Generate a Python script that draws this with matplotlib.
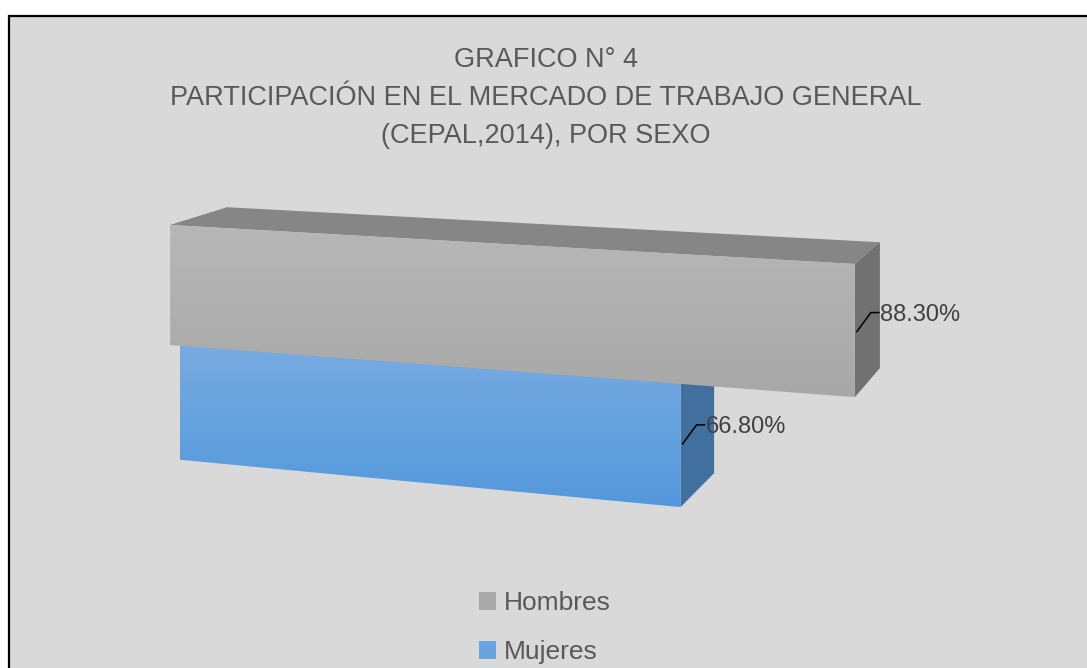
import numpy as np
import matplotlib
matplotlib.use("Agg")
import matplotlib.pyplot as plt
from matplotlib.patches import Polygon, Rectangle, Patch
from matplotlib.colors import LinearSegmentedColormap

# datos del grafico
series = ["Hombres", "Mujeres"]
valores = [88.30, 66.80]
titulo = ["GRAFICO N° 4",
          "PARTICIPACIÓN EN EL MERCADO DE TRABAJO GENERAL",
          "(CEPAL,2014), POR SEXO"]

# estilo de cada serie: frente (arriba, abajo), tapa, lado, leyenda
col_frente = [("#b7b7b7", "#a8a8a8"), ("#79ace1", "#5398dc")]
col_tapa = ["#868686", "#5f8fc4"]
col_lado = ["#717171", "#416f9e"]
col_leyenda = ["#a9a9a9", "#6aa3de"]
fila = [0.0, -1.0]        # posicion vertical de cada barra
prof = [0.0, 0.167]       # desplazamiento en profundidad

W, H = 1087, 668
FONDO = "#d9d9d9"
TEXTO = "#595959"

# camara en perspectiva (dos puntos de fuga)
PX, PY, F = 520.0, -130.0, 2278.0
TH = np.radians(19.1)
X0, Y0, Z0 = -1.536, -2.085, 10.0
SX, SY, SD = 0.03428, 0.5268, 0.557


def proyectar(x, y, d):
  xc = X0 + x * SX * np.cos(TH) + d * SD * np.sin(TH)
  yc = Y0 + y * SY
  zc = Z0 - x * SX * np.sin(TH) + d * SD * np.cos(TH)
  return PX + F * xc / zc, PY - F * yc / zc


def cara(ax, pts, c1, c2=None, z=2):
  pts = np.array(pts)
  poly = Polygon(pts, closed=True, facecolor=c1 if c2 is None else "none",
                 edgecolor="none", zorder=z)
  ax.add_patch(poly)
  if c2 is not None:
    cmap = LinearSegmentedColormap.from_list("g", [c1, c2])
    grad = np.linspace(0, 1, 256)[:, None]
    im = ax.imshow(grad, cmap=cmap, aspect="auto", interpolation="bicubic",
                   extent=(pts[:, 0].min(), pts[:, 0].max(), pts[:, 1].max(), pts[:, 1].min()),
                   zorder=z)
    im.set_clip_path(poly)


def barra(ax, v, y0, d0, cf, ct, cl, z):
  y1 = y0 + 1
  d1 = d0 + 1
  frente = [proyectar(0, y1, d0), proyectar(v, y1, d0), proyectar(v, y0, d0), proyectar(0, y0, d0)]
  tapa = [proyectar(0, y1, d0), proyectar(0, y1, d1), proyectar(v, y1, d1), proyectar(v, y1, d0)]
  lado = [proyectar(v, y1, d0), proyectar(v, y1, d1), proyectar(v, y0, d1), proyectar(v, y0, d0)]
  cara(ax, tapa, ct, z=z)
  cara(ax, lado, cl, z=z)
  cara(ax, frente, cf[0], cf[1], z=z)
  # etiqueta con linea guia desde el centro de la arista derecha
  ux, uy = proyectar(v, y1 - 0.5, d0)
  ax.plot([ux + 2, ux + 16, ux + 24], [uy + 1, uy - 18, uy - 18], color="black", lw=1.1, zorder=z + 5)
  ax.text(ux + 25, uy - 16, f"{v:.2f}%", fontsize=17, color="#404040",
          family=["Liberation Sans", "DejaVu Sans"], ha="left", va="center", zorder=z + 5)


fig = plt.figure(figsize=(W / 100, H / 100), dpi=100)
ax = fig.add_axes([0, 0, 1, 1])
ax.set_xlim(0, W)
ax.set_ylim(H, 0)
ax.axis("off")

ax.add_patch(Rectangle((8.5, 15.5), W, H, facecolor=FONDO, edgecolor="black", lw=1.6, zorder=0))

# se dibuja primero la barra de atras
for i in [1, 0]:
  barra(ax, valores[i], fila[i], prof[i], col_frente[i], col_tapa[i], col_lado[i], z=2 + (1 - i) * 10)

ax.set_xlim(0, W)
ax.set_ylim(H, 0)

for k, linea in enumerate(titulo):
  ax.text(546, 67 + 38 * k, linea, fontsize=19.5, color=TEXTO, ha="center", va="baseline",
          family=["Liberation Sans", "DejaVu Sans"])

handles = [Patch(facecolor=c, edgecolor="none") for c in col_leyenda]
leg = ax.legend(handles, series, loc="upper center", bbox_to_anchor=(545, 578),
                bbox_transform=ax.transData, frameon=False, ncol=1,
                prop={"family": "Liberation Sans", "size": 19},
                handlelength=0.65, handleheight=0.65, handletextpad=0.3,
                labelspacing=0.95, borderpad=0)
for t in leg.get_texts():
  t.set_color(TEXTO)

fig.savefig("out.png", dpi=100, facecolor="white")
